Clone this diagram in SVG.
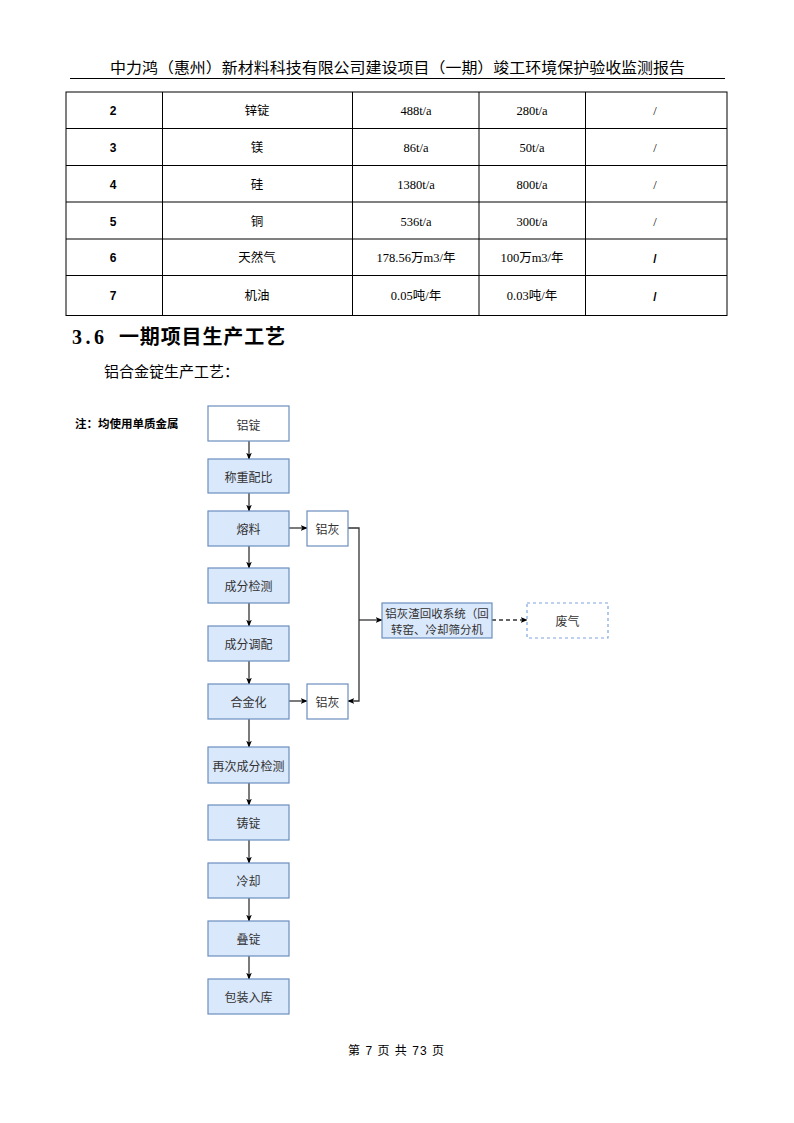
<svg xmlns="http://www.w3.org/2000/svg" width="794" height="1123" viewBox="0 0 794 1123">
<style>
.hdr{font-family:"Liberation Sans","Noto Sans CJK SC",sans-serif;font-size:15px;fill:#000}
.tb{font-family:"Liberation Serif","Noto Sans CJK SC",serif;font-size:12.5px;fill:#000;text-anchor:middle}
.tbb{font-family:"Liberation Sans","Noto Sans CJK SC",sans-serif;font-size:12px;font-weight:bold;fill:#000;text-anchor:middle}
.cell{fill:none;stroke:#000;stroke-width:1}
.h1{font-family:"Liberation Serif","Noto Sans CJK SC",serif;font-size:20px;font-weight:bold;fill:#000}
.p{font-family:"Liberation Serif","Noto Sans CJK SC",serif;font-size:15px;fill:#000}
.blue{fill:#dae8fc;stroke:#6c8ebf;stroke-width:1.2}
.white{fill:#fff;stroke:#6c8ebf;stroke-width:1.2}
.dash{fill:#fff;stroke:#7ea6e0;stroke-width:1.2;stroke-dasharray:3 3}
.lbl{font-family:"Noto Sans CJK SC","Noto Sans",sans-serif;font-size:12px;fill:#333;text-anchor:middle;dominant-baseline:central}
.sm{font-size:11.5px}
.note{font-family:"Noto Sans CJK SC",sans-serif;font-size:11.5px;font-weight:bold;fill:#000}
.ln{fill:none;stroke:#333;stroke-width:1.3}
.foot{font-family:"Liberation Sans","Noto Sans CJK SC",sans-serif;font-size:12px;fill:#000}
</style>
<defs>
<marker id="ar" viewBox="0 0 10 10" refX="9" refY="5" markerWidth="7" markerHeight="7" orient="auto" markerUnits="userSpaceOnUse">
<path d="M0,1 L10,5 L0,9 L2.5,5 z" fill="#000"/>
</marker>
</defs>
<rect width="794" height="1123" fill="#fff"/>
<text class="hdr" x="110" y="73" textLength="575" lengthAdjust="spacingAndGlyphs">中力鸿（惠州）新材料科技有限公司建设项目（一期）竣工环境保护验收监测报告</text>
<line x1="70" y1="78.5" x2="725" y2="78.5" stroke="#000" stroke-width="1"/>
<g id="table">
<rect class="cell" x="66" y="92" width="661" height="223.5"/>
<line class="cell" x1="66" y1="128.5" x2="727" y2="128.5"/>
<line class="cell" x1="66" y1="165.5" x2="727" y2="165.5"/>
<line class="cell" x1="66" y1="202" x2="727" y2="202"/>
<line class="cell" x1="66" y1="239" x2="727" y2="239"/>
<line class="cell" x1="66" y1="275.5" x2="727" y2="275.5"/>
<line class="cell" x1="162.5" y1="92" x2="162.5" y2="315.5"/>
<line class="cell" x1="352.5" y1="92" x2="352.5" y2="315.5"/>
<line class="cell" x1="479" y1="92" x2="479" y2="315.5"/>
<line class="cell" x1="585.5" y1="92" x2="585.5" y2="315.5"/>
<text class="tbb" x="113" y="115">2</text><text class="tb" x="257" y="115">锌锭</text><text class="tb" x="416" y="115">488t/a</text><text class="tb" x="532" y="115">280t/a</text><text class="tb" x="655" y="115">/</text>
<text class="tbb" x="113" y="152">3</text><text class="tb" x="257" y="152">镁</text><text class="tb" x="416" y="152">86t/a</text><text class="tb" x="532" y="152">50t/a</text><text class="tb" x="655" y="152">/</text>
<text class="tbb" x="113" y="189">4</text><text class="tb" x="257" y="189">硅</text><text class="tb" x="416" y="189">1380t/a</text><text class="tb" x="532" y="189">800t/a</text><text class="tb" x="655" y="189">/</text>
<text class="tbb" x="113" y="226">5</text><text class="tb" x="257" y="226">铜</text><text class="tb" x="416" y="226">536t/a</text><text class="tb" x="532" y="226">300t/a</text><text class="tb" x="655" y="226">/</text>
<text class="tbb" x="113" y="262">6</text><text class="tb" x="257" y="262">天然气</text><text class="tb" x="416" y="262">178.56万m3/年</text><text class="tb" x="532" y="262">100万m3/年</text><text class="tbb" x="655" y="263">/</text>
<text class="tbb" x="113" y="300">7</text><text class="tb" x="257" y="300">机油</text><text class="tb" x="416" y="300">0.05吨/年</text><text class="tb" x="532" y="300">0.03吨/年</text><text class="tbb" x="655" y="301">/</text>
</g>
<text class="h1" x="72" y="344"><tspan textLength="32" lengthAdjust="spacing">3.6</tspan><tspan x="119" textLength="166" lengthAdjust="spacing">一期项目生产工艺</tspan></text>
<text class="p" x="104" y="377">铝合金锭生产工艺：</text>
<text class="note" x="75" y="428">注：均使用单质金属</text>
<g id="connectors">
<line class="ln" x1="249" y1="441" x2="249" y2="459" marker-end="url(#ar)"/>
<line class="ln" x1="249" y1="493" x2="249" y2="511" marker-end="url(#ar)"/>
<line class="ln" x1="249" y1="546" x2="249" y2="568" marker-end="url(#ar)"/>
<line class="ln" x1="249" y1="603" x2="249" y2="626" marker-end="url(#ar)"/>
<line class="ln" x1="249" y1="661" x2="249" y2="684" marker-end="url(#ar)"/>
<line class="ln" x1="249" y1="719" x2="249" y2="747" marker-end="url(#ar)"/>
<line class="ln" x1="249" y1="783" x2="249" y2="805" marker-end="url(#ar)"/>
<line class="ln" x1="249" y1="840" x2="249" y2="863" marker-end="url(#ar)"/>
<line class="ln" x1="249" y1="898" x2="249" y2="921" marker-end="url(#ar)"/>
<line class="ln" x1="249" y1="956" x2="249" y2="979" marker-end="url(#ar)"/>
<line class="ln" x1="289" y1="528" x2="307" y2="528" marker-end="url(#ar)"/>
<line class="ln" x1="289" y1="701" x2="307" y2="701" marker-end="url(#ar)"/>
<polyline class="ln" points="348,528 359,528 359,701 348,701" marker-end="url(#ar)"/>
<line class="ln" x1="359" y1="620" x2="382" y2="620" marker-end="url(#ar)"/>
<line class="ln" x1="492" y1="620" x2="527" y2="620" stroke-dasharray="4 3" marker-end="url(#ar)"/>
</g>
<g id="n1"><rect class="white" x="208" y="406" width="81" height="35"/><text class="lbl" x="248.5" y="424">铝锭</text></g>
<g id="n2"><rect class="blue" x="208" y="459" width="81" height="34"/><text class="lbl" x="248.5" y="476">称重配比</text></g>
<g id="n3"><rect class="blue" x="208" y="511" width="81" height="35"/><text class="lbl" x="248.5" y="528.5">熔料</text></g>
<g id="n4"><rect class="blue" x="208" y="568" width="81" height="35"/><text class="lbl" x="248.5" y="585.5">成分检测</text></g>
<g id="n5"><rect class="blue" x="208" y="626" width="81" height="35"/><text class="lbl" x="248.5" y="643.5">成分调配</text></g>
<g id="n6"><rect class="blue" x="208" y="684" width="81" height="35"/><text class="lbl" x="248.5" y="701.5">合金化</text></g>
<g id="n7"><rect class="blue" x="208" y="747" width="81" height="36"/><text class="lbl" x="248.5" y="765">再次成分检测</text></g>
<g id="n8"><rect class="blue" x="208" y="805" width="81" height="35"/><text class="lbl" x="248.5" y="822.5">铸锭</text></g>
<g id="n9"><rect class="blue" x="208" y="863" width="81" height="35"/><text class="lbl" x="248.5" y="880.5">冷却</text></g>
<g id="n10"><rect class="blue" x="208" y="921" width="81" height="35"/><text class="lbl" x="248.5" y="938.5">叠锭</text></g>
<g id="n11"><rect class="blue" x="208" y="979" width="81" height="35"/><text class="lbl" x="248.5" y="996.5">包装入库</text></g>
<g id="ash1"><rect class="white" x="307" y="511" width="41" height="35"/><text class="lbl" x="327.5" y="528.5">铝灰</text></g>
<g id="ash2"><rect class="white" x="307" y="684" width="41" height="35"/><text class="lbl" x="327.5" y="701.5">铝灰</text></g>
<g id="recover"><rect class="blue" x="382" y="603" width="110" height="35"/><text class="lbl sm" x="437" y="612.5">铝灰渣回收系统（回</text><text class="lbl sm" x="437" y="628.5">转窑、冷却筛分机</text></g>
<g id="gas"><rect class="dash" x="527" y="603" width="81" height="35"/><text class="lbl" x="567.5" y="620.5">废气</text></g>
<text class="foot" x="348" y="1055" textLength="96" lengthAdjust="spacing">第 7 页 共 73 页</text>
</svg>
